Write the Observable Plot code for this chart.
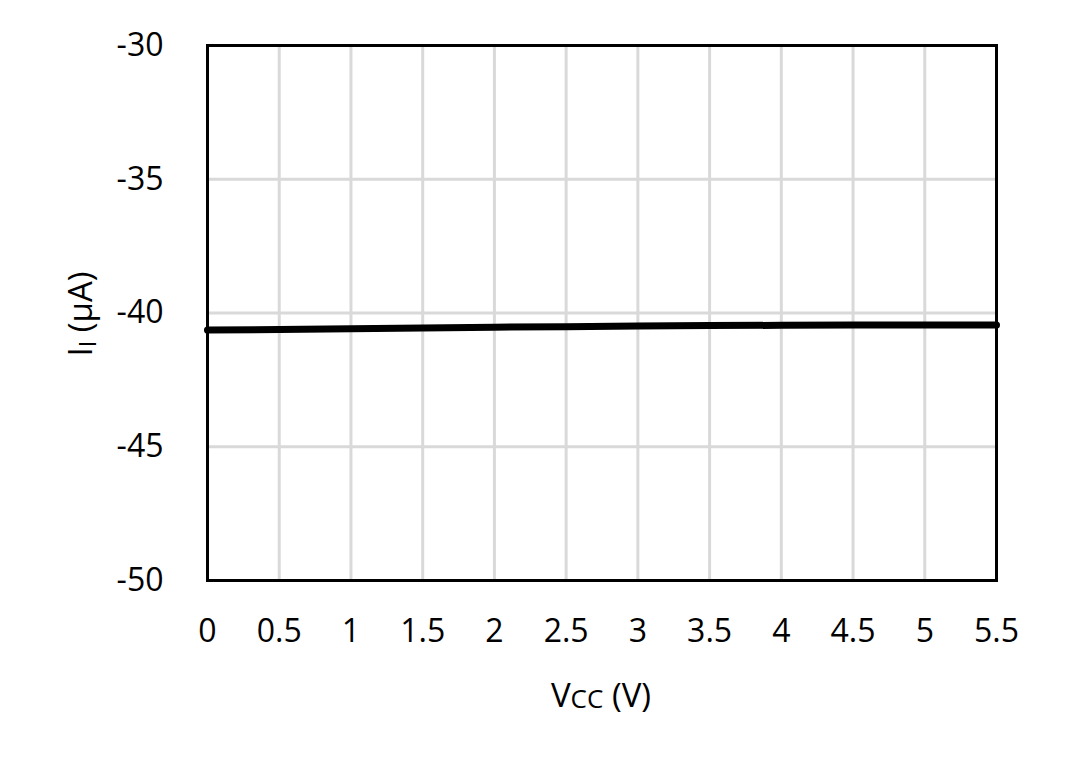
<!DOCTYPE html>
<html>
<head>
<meta charset="utf-8">
<script src="https://cdn.jsdelivr.net/npm/d3@7"></script>
<script src="https://cdn.jsdelivr.net/npm/@observablehq/plot@0.6"></script>
<style>
  html, body { margin: 0; padding: 0; background: white; }
</style>
</head>
<body>
<div id="chart"></div>
<script>
const vcc = [0, 0.5, 1, 1.5, 2, 2.5, 3, 3.5, 4, 4.5, 5, 5.5];
const current = [-40.64, -40.62, -40.59, -40.56, -40.53, -40.51, -40.49, -40.47, -40.46, -40.45, -40.45, -40.45];
const xTicks = [0, 0.5, 1, 1.5, 2, 2.5, 3, 3.5, 4, 4.5, 5, 5.5];
const yTicks = [-50, -45, -40, -35, -30];

const data = vcc.map((v, i) => ({ v, i: current[i] }));
const FONT = "'Open Sans', sans-serif";

const chart = Plot.plot({
  width: 1066,
  height: 766,
  marginLeft: 207,
  marginRight: 70,
  marginTop: 45,
  marginBottom: 186,
  style: { fontFamily: FONT, color: "black", background: "white" },
  x: { domain: [0, 5.5], label: null },
  y: { domain: [-50, -30], label: null },
  marks: [
    Plot.gridX(xTicks, { stroke: "#d9d9d9", strokeOpacity: 1, strokeWidth: 3 }),
    Plot.gridY(yTicks, { stroke: "#d9d9d9", strokeOpacity: 1, strokeWidth: 3 }),
    Plot.axisX(xTicks, { tickSize: 0, tickPadding: 39, fontSize: 32, label: null, tickFormat: d => String(d) }),
    Plot.axisY(yTicks, { tickSize: 0, tickPadding: 44, fontSize: 32, label: null, tickFormat: d => String(d) }),
    Plot.line(data, { x: "v", y: "i", stroke: "black", strokeWidth: 7 }),
    Plot.frame({ stroke: "black", strokeWidth: 3 })
  ]
});

const svg = d3.select(chart);
// x-axis title with subscript
const xt = svg.append("text")
  .attr("x", 601).attr("y", 707)
  .attr("text-anchor", "middle")
  .attr("font-family", FONT)
  .attr("font-size", 33).attr("fill", "black");
xt.append("tspan").text("V");
xt.append("tspan").attr("font-size", 26).attr("dy", 1).text("CC");
xt.append("tspan").attr("dy", -1).text(" (V)");

// y-axis title with subscript
const yt = svg.append("text")
  .attr("transform", "translate(92,314) rotate(-90)")
  .attr("text-anchor", "middle")
  .attr("font-family", FONT)
  .attr("font-size", 33).attr("fill", "black");
yt.append("tspan").text("I");
yt.append("tspan").attr("font-size", 23).attr("dy", 4).text("I");
yt.append("tspan").attr("dy", -4).text(" (µA)");

document.getElementById("chart").appendChild(chart);
</script>
</body>
</html>
